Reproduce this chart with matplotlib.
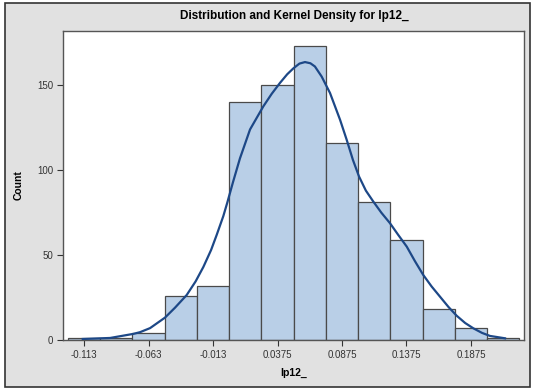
import matplotlib.pyplot as plt
from matplotlib.patches import Rectangle

# histogram: bin midpoints and counts
bin_mids = [-0.1125, -0.0875, -0.0625, -0.0375, -0.0125, 0.0125, 0.0375,
            0.0625, 0.0875, 0.1125, 0.1375, 0.1625, 0.1875, 0.2125]
counts = [1, 1, 4, 26, 32, 140, 150, 173, 116, 81, 59, 18, 7, 1]
bin_width = 0.025

# kernel density curve, already scaled to counts
kde_x = [-0.1135, -0.0923, -0.0743, -0.0691, -0.0613, -0.0497, -0.0420,
         -0.0329, -0.0260, -0.0200, -0.0140, -0.0096, -0.0045, -0.0014,
         0.0030, 0.0084, 0.0162, 0.0265, 0.0330, 0.0394, 0.0450, 0.0498,
         0.0545, 0.0588, 0.0630, 0.0665, 0.0717, 0.0782, 0.0860, 0.0911,
         0.0960, 0.1007, 0.1060, 0.1118, 0.1180, 0.1247, 0.1310, 0.1377,
         0.1440, 0.1505, 0.1570, 0.1635, 0.1700, 0.1764, 0.1830, 0.1893,
         0.1960, 0.2022, 0.2139]
kde_y = [0.6, 1.2, 3.6, 4.6, 7.0, 13.2, 19.0, 26.5, 34.5, 43.0, 53.0, 62.0,
         73.0, 81.0, 93.0, 107.0, 124.0, 137.6, 145.0, 151.4, 156.5, 160.0,
         162.8, 163.7, 163.0, 161.1, 155.2, 145.5, 129.7, 118.0, 106.0, 96.3,
         88.0, 81.5, 75.0, 68.8, 62.0, 55.0, 46.5, 38.3, 31.5, 25.5, 19.5,
         14.3, 10.0, 6.9, 4.2, 2.4, 1.0]

tick_pos = [-0.1125, -0.0625, -0.0125, 0.0375, 0.0875, 0.1375, 0.1875]
tick_labels = ['-0.113', '-0.063', '-0.013', '0.0375', '0.0875', '0.1375', '0.1875']

plt.rcParams['font.family'] = ['Liberation Sans', 'DejaVu Sans']

fig = plt.figure(figsize=(5.34, 3.90), dpi=100)
fig.patch.set_facecolor('white')
fig.patches.append(Rectangle((5 / 534, 3 / 390), 525 / 534, 384 / 390,
                             transform=fig.transFigure, facecolor='#e1e1e1',
                             edgecolor='#333333', linewidth=1.2, zorder=-10))

ax = fig.add_axes([63 / 534, 50 / 390, 461 / 534, 309 / 390])
ax.set_facecolor('white')

ax.bar(bin_mids, counts, width=bin_width, color='#b9cfe7',
       edgecolor='#4a4a4a', linewidth=0.9, zorder=2)
ax.plot(kde_x, kde_y, color='#1d4887', linewidth=1.6, zorder=3,
        solid_joinstyle='round')

ax.set_xlim(-0.1288, 0.2286)
ax.set_ylim(0, 182)
ax.set_xticks(tick_pos)
ax.set_xticklabels(tick_labels)
ax.set_yticks([0, 50, 100, 150])

ax.tick_params(axis='both', labelsize=7, colors='#333333', length=4,
               width=0.8, pad=3)
for s in ax.spines.values():
    s.set_color('#555555')
    s.set_linewidth(1.0)

ax.set_xlabel('lp12_', fontsize=7.5, fontweight='bold', labelpad=6)
ax.set_ylabel('Count', fontsize=7.5, fontweight='bold', labelpad=10)
fig.text(294 / 534, 1 - 16 / 390, 'Distribution and Kernel Density for lp12_',
         ha='center', va='center', fontsize=8.5, fontweight='bold')

fig.savefig('out.png', dpi=100)
